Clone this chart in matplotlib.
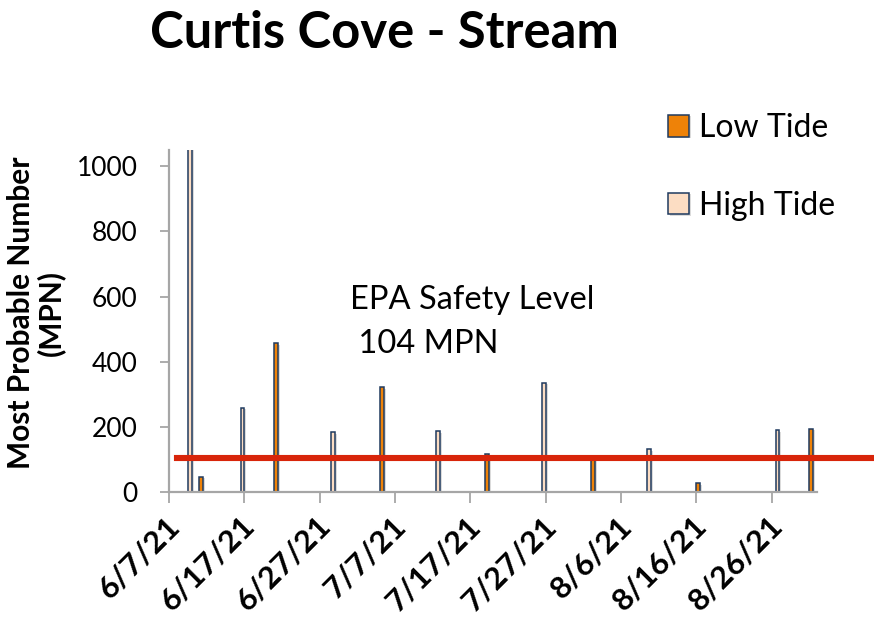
import numpy as np
import matplotlib
matplotlib.use("Agg")
import matplotlib.pyplot as plt
import matplotlib.dates as mdates
import matplotlib.patheffects as pe
import matplotlib.transforms as mtransforms
from matplotlib.ticker import FixedLocator, FuncFormatter
import datetime as dt

plt.rcParams['font.family'] = ['Lato', 'DejaVu Sans']

# sample dates and MPN values
low_dates = ["2021-06-11", "2021-06-21", "2021-07-05", "2021-07-19",
             "2021-08-02", "2021-08-16", "2021-08-31"]
low_mpn = [46, 456, 322, 118, 100, 27, 194]
high_dates = ["2021-06-09", "2021-06-16", "2021-06-28", "2021-07-12",
              "2021-07-26", "2021-08-09", "2021-08-26"]
high_mpn = [2420, 258, 183, 186, 335, 131, 189]
epa_level = 104
axis_start = "2021-06-07"
axis_end = "2021-09-01"
tick_step_days = 10

ORANGE = "#EE8208"
PEACH = "#FCDDC3"
NAVY = "#1F3A5F"
GREY = "#A6A6A6"
RED = "#D8250A"


def to_num(dates):
    return mdates.date2num([dt.datetime.strptime(d, "%Y-%m-%d") for d in dates])


def fmt_date(x, pos):
    d = mdates.num2date(x)
    return f"{d.month}/{d.day}/{d.year % 100}"


fig = plt.figure(figsize=(8.74, 6.24), dpi=100)
ax = fig.add_axes([169 / 874, 132 / 624, 648 / 874, 342 / 624])

shadow = [pe.SimplePatchShadow(offset=(1.5, -1.0), shadow_rgbFace="#999999", alpha=0.35), pe.Normal()]
bw = 0.5
ax.bar(to_num(low_dates) + 0.25, low_mpn, width=bw, color=ORANGE,
       edgecolor=NAVY, linewidth=1.1, label="Low Tide", path_effects=shadow)
ax.bar(to_num(high_dates) + 0.75, high_mpn, width=bw, color=PEACH,
       edgecolor=NAVY, linewidth=1.1, label="High Tide", path_effects=shadow)

ax.axhline(epa_level, xmin=0.012, xmax=1.09, color=RED, lw=4.4,
           clip_on=False, zorder=5)

x0, x1 = to_num([axis_start, axis_end])
ax.set_xlim(x0, x1)
ax.set_ylim(0, 1050)
ax.xaxis.set_major_locator(FixedLocator(np.arange(x0, x1, tick_step_days)))
ax.xaxis.set_major_formatter(FuncFormatter(fmt_date))
ax.set_yticks(np.arange(0, 1001, 200))

for s in ["top", "right"]:
    ax.spines[s].set_visible(False)
for s in ["left", "bottom"]:
    ax.spines[s].set_color(GREY)
    ax.spines[s].set_linewidth(1.6)

ax.tick_params(axis="y", length=6.5, width=1.3, color=GREY, pad=16, labelsize=19)
ax.tick_params(axis="x", length=8, width=1.3, color=GREY, pad=13, labelsize=22.5)
shift = mtransforms.ScaledTranslation(6 / 100, 0, fig.dpi_scale_trans)
for lab in ax.get_xticklabels():
    lab.set_rotation(45)
    lab.set_ha("right")
    lab.set_rotation_mode("anchor")
    lab.set_va("center")
    lab.set_fontweight("bold")
    lab.set_transform(lab.get_transform() + shift)

fig.text(384 / 874, 1 - 34 / 624, "Curtis Cove - Stream", ha="center", va="center",
         fontsize=36.5, fontweight="bold")
fig.text(36 / 874, 1 - 313 / 624, "Most Probable Number\n(MPN)", rotation=90,
         ha="center", va="center", fontsize=21.5, fontweight="bold", linespacing=1.05)
fig.text(350 / 874, 1 - 285 / 624, "EPA Safety Level\n 104 MPN", ha="left", va="top",
         fontsize=23.5, linespacing=1.6)

fig.legend(loc="upper left", bbox_to_anchor=(668 / 874, 1 - 113 / 624), frameon=False,
           fontsize=23, handlelength=0.66, handleheight=0.66, handletextpad=0.3,
           labelspacing=1.5, borderpad=0, borderaxespad=0)

fig.savefig("out.png", dpi=100)
